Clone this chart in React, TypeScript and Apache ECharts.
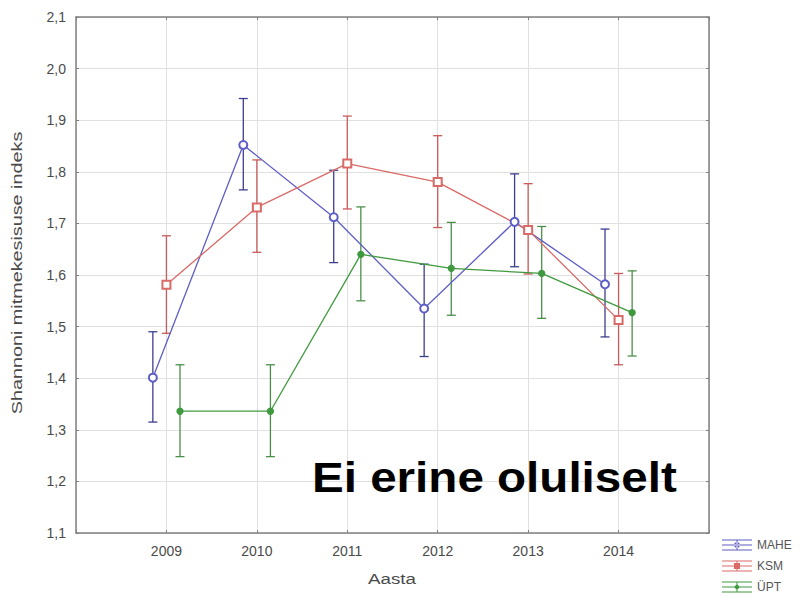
import React, { useEffect, useRef } from "react";
import * as echarts from "echarts";

const years = [2009, 2010, 2011, 2012, 2013, 2014];
const maheMean = [1.401, 1.852, 1.712, 1.535, 1.703, 1.582];
const maheLow = [1.315, 1.765, 1.624, 1.442, 1.616, 1.48];
const maheHigh = [1.49, 1.942, 1.803, 1.621, 1.796, 1.689];
const ksmMean = [1.581, 1.731, 1.816, 1.78, 1.687, 1.513];
const ksmLow = [1.487, 1.644, 1.728, 1.692, 1.602, 1.426];
const ksmHigh = [1.676, 1.823, 1.908, 1.87, 1.777, 1.603];
const uptMean = [1.336, 1.336, 1.64, 1.613, 1.603, 1.527];
const uptLow = [1.248, 1.248, 1.55, 1.522, 1.516, 1.443];
const uptHigh = [1.426, 1.426, 1.732, 1.702, 1.694, 1.608];
const yTicks = [1.1, 1.2, 1.3, 1.4, 1.5, 1.6, 1.7, 1.8, 1.9, 2.0, 2.1];
const seriesNames = ["MAHE", "KSM", "ÜPT"];
const xTitle = "Aasta";
const yTitle = "Shannoni mitmekesisuse indeks";
const note = "Ei erine oluliselt";

const OFFSETS = [-0.15, 0, 0.15];
const LINE_COLORS = ["#5d5dc6", "#d96a66", "#3f9a3f"];
const BAR_COLORS = ["#3d3d8e", "#c95a5a", "#4a8f4a"];
const SYMBOLS = ["emptyCircle", "emptyRect", "circle"];
const SYMBOL_SIZES = [8, 8, 6];
const LEGEND_TOPS = [539, 560, 581];
const FONT = "'Liberation Sans', Arial, sans-serif";

const iconBase =
  "M0,0h30v1h-30z M0,5h30v1h-30z M0,10h30v1h-30z M14.5,0h1v11h-1z ";
const legendIcons = [
  "path://" + iconBase + "M15,2.5a3,3 0 1,0 0.01,0z",
  "path://" + iconBase + "M12,2.5h6v6h-6z",
  "path://" + iconBase + "M15,2.5l3,3l-3,3l-3,-3z",
];

export default function App() {
  const ref = useRef<HTMLDivElement>(null);
  useEffect(() => {
    if (!ref.current) return;
    const chart = echarts.init(ref.current, null, { renderer: "svg" });
    const means = [maheMean, ksmMean, uptMean];
    const lows = [maheLow, ksmLow, uptLow];
    const highs = [maheHigh, ksmHigh, uptHigh];
    const series: any[] = [];
    seriesNames.forEach((name, i) => {
      series.push({
        name,
        type: "custom",
        xAxisIndex: 0,
        yAxisIndex: 0,
        data: years.map((y, k) => [y + OFFSETS[i], lows[i][k], highs[i][k]]),
        encode: { x: 0, y: [1, 2] },
        z: 2,
        renderItem: (params: any, api: any) => {
          const x = api.value(0);
          const lo = api.coord([x, api.value(1)]);
          const hi = api.coord([x, api.value(2)]);
          const w = 4.5;
          const style = { stroke: BAR_COLORS[i], lineWidth: 1.3 };
          return {
            type: "group",
            children: [
              { type: "line", shape: { x1: lo[0], y1: lo[1], x2: hi[0], y2: hi[1] }, style },
              { type: "line", shape: { x1: lo[0] - w, y1: lo[1], x2: lo[0] + w, y2: lo[1] }, style },
              { type: "line", shape: { x1: hi[0] - w, y1: hi[1], x2: hi[0] + w, y2: hi[1] }, style },
            ],
          };
        },
      });
      series.push({
        name,
        type: "line",
        xAxisIndex: 0,
        yAxisIndex: 0,
        data: years.map((y, k) => [y + OFFSETS[i], means[i][k]]),
        symbol: SYMBOLS[i],
        symbolSize: SYMBOL_SIZES[i],
        showAllSymbol: true,
        z: 3,
        lineStyle: { color: LINE_COLORS[i], width: 1.3 },
        itemStyle: { color: LINE_COLORS[i], borderColor: LINE_COLORS[i], borderWidth: 1.3 },
      });
    });

    const axisFont = { fontFamily: FONT, fontSize: 14, color: "#4a4a4a" };
    const axisLine = { show: true, onZero: false, lineStyle: { color: "#808080", width: 1.5 } };
    const axisTick = { show: true, inside: true, length: 3, lineStyle: { color: "#808080" } };

    chart.setOption({
      animation: false,
      backgroundColor: "#ffffff",
      grid: { left: 76, top: 17, right: 91, bottom: 63, containLabel: false },
      legend: seriesNames.map((n, i) => ({
        orient: "vertical",
        left: 722,
        top: LEGEND_TOPS[i],
        itemWidth: 30,
        itemHeight: 11,
        padding: 0,
        textStyle: { fontFamily: FONT, fontSize: 12, color: "#555" },
        data: [{ name: n, icon: legendIcons[i], itemStyle: { color: LINE_COLORS[i] } }],
      })),
      xAxis: [
        {
          type: "value",
          min: 2008,
          max: 2015,
          interval: 1,
          axisLine,
          axisTick,
          axisLabel: {
            ...axisFont,
            margin: 11,
            formatter: (v: number) => (years.indexOf(v) >= 0 ? String(v) : ""),
          },
          splitLine: { show: true, lineStyle: { color: "#e0e0e0", width: 1 } },
        },
        {
          type: "value",
          position: "top",
          min: 2008,
          max: 2015,
          interval: 1,
          axisLine,
          axisTick,
          axisLabel: { show: false },
          splitLine: { show: false },
        },
      ],
      yAxis: [
        {
          type: "value",
          min: 1.1,
          max: 2.1,
          interval: 0.1,
          axisLine,
          axisTick,
          axisLabel: {
            ...axisFont,
            margin: 10,
            formatter: (v: number) => {
              const t = yTicks.find((k) => Math.abs(k - v) < 1e-6);
              return t !== undefined ? t.toFixed(1).replace(".", ",") : "";
            },
          },
          splitLine: { show: true, lineStyle: { color: "#e0e0e0", width: 1 } },
        },
        {
          type: "value",
          position: "right",
          min: 1.1,
          max: 2.1,
          interval: 0.1,
          axisLine,
          axisTick,
          axisLabel: { show: false },
          splitLine: { show: false },
        },
      ],
      graphic: [
        {
          type: "text",
          x: 312,
          y: 477,
          scaleX: 1.133,
          z: 10,
          style: {
            text: note,
            fill: "#000",
            font: "bold 42px " + FONT,
            align: "left",
            verticalAlign: "middle",
          },
        },
        {
          type: "text",
          x: 392,
          y: 579,
          scaleX: 1.25,
          style: {
            text: xTitle,
            fill: "#4a4a4a",
            font: "15px " + FONT,
            align: "center",
            verticalAlign: "middle",
          },
        },
        {
          type: "text",
          x: 17,
          y: 273,
          rotation: Math.PI / 2,
          scaleX: 1.32,
          style: {
            text: yTitle,
            fill: "#4a4a4a",
            font: "15px " + FONT,
            align: "center",
            verticalAlign: "middle",
          },
        },
      ],
      series,
    });
    return () => chart.dispose();
  }, []);
  return <div ref={ref} style={{ width: 800, height: 596, position: "absolute", left: 0, top: 0 }} />;
}
